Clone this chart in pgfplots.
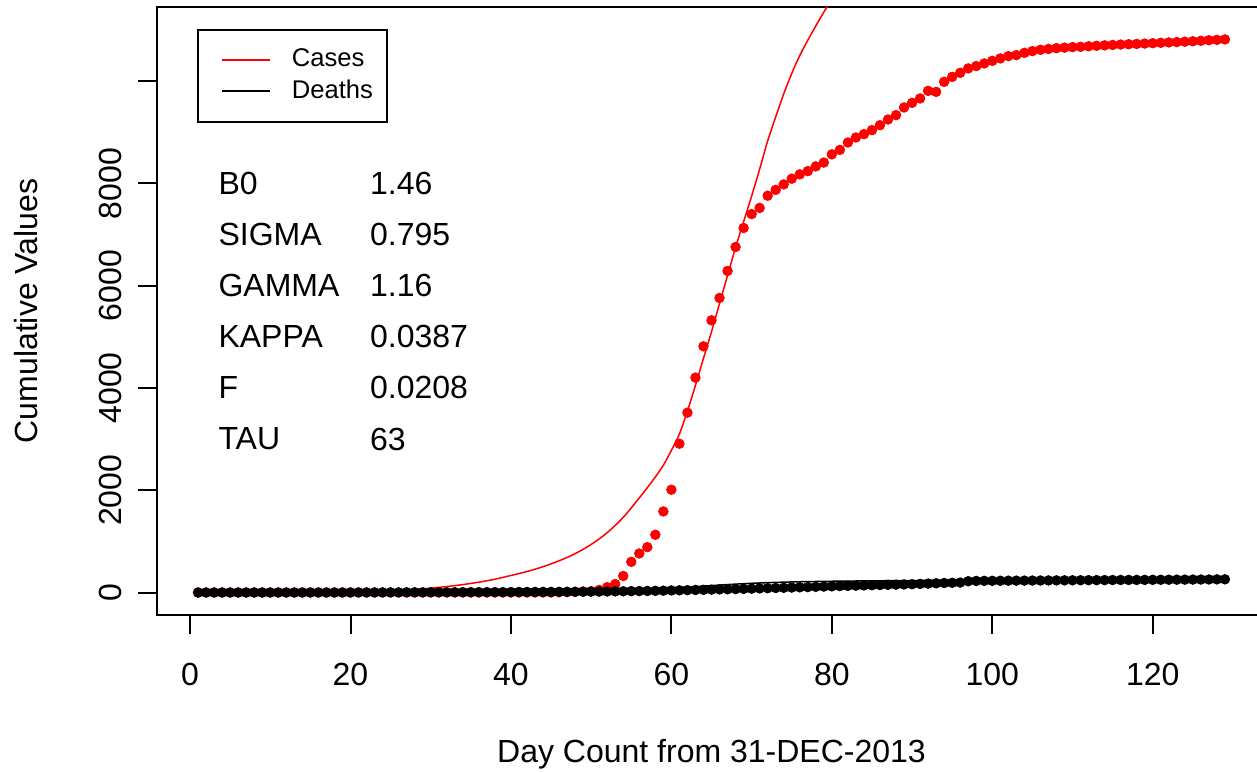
\documentclass[border=0pt]{standalone}
\usepackage{fontspec}
\setmainfont{Liberation Sans}
\usepackage{pgfplots}
\usepackage{pgfplotstable}
\pgfplotsset{compat=1.18}
\pgfplotstableread{
day cases deaths
1 0 0
2 0 0
3 0 0
4 0 0
5 0 0
6 0 0
7 0 0
8 0 0
9 0 0
10 0 0
11 0 0
12 0 0
13 0 0
14 0 0
15 0 0
16 0 0
17 0 0
18 0 0
19 0 0
20 0 0
21 0 1
22 0 1
23 0 1
24 0 2
25 0 2
26 0 2
27 0 3
28 0 3
29 0 3
30 0 4
31 0 4
32 0 5
33 0 5
34 0 6
35 0 6
36 0 7
37 0 7
38 0 8
39 0 8
40 0 9
41 0 10
42 0 10
43 0 11
44 0 12
45 0 12
46 5 13
47 8 14
48 12 15
49 18 16
50 25 17
51 50 18
52 104 20
53 165 22
54 323 24
55 600 26
56 763 28
57 887 30
58 1129 33
59 1585 36
60 2010 40
61 2910 43
62 3517 46
63 4202 50
64 4814 53
65 5323 56
66 5760 60
67 6288 63
68 6757 67
69 7129 71
70 7400 75
71 7521 80
72 7760 84
73 7874 88
74 7981 92
75 8092 97
76 8177 101
77 8240 106
78 8333 111
79 8408 116
80 8568 121
81 8656 126
82 8800 130
83 8898 134
84 8963 138
85 9041 142
86 9139 146
87 9250 150
88 9335 154
89 9485 158
90 9576 162
91 9661 168
92 9810 174
93 9791 180
94 9987 186
95 10084 190
96 10163 195
97 10249 220
98 10294 226
99 10346 228
100 10397 229
101 10444 230
102 10489 231
103 10509 232
104 10554 233
105 10587 234
106 10613 235
107 10630 236
108 10645 237
109 10655 238
110 10665 239
111 10672 240
112 10682 241
113 10692 242
114 10700 243
115 10708 244
116 10716 245
117 10722 246
118 10728 246
119 10735 247
120 10742 248
121 10750 249
122 10757 250
123 10764 251
124 10772 252
125 10780 253
126 10790 254
127 10800 255
128 10808 257
129 10816 258
}\obsdata
\pgfplotstableread{
day cases
1 1
5 2
10 4
15 8
20 15
24 28
26 40
28 60
30 85
32 117
34 155
36 202
38 260
40 333
42 410
44 505
46 620
48 760
50 940
52 1170
54 1470
56 1850
57 2050
58 2260
59 2490
60 2780
61 3100
62 3550
63 4050
64 4580
65 5100
66 5650
67 6200
68 6750
69 7250
70 7750
71 8280
72 8830
73 9300
74 9750
75 10150
76 10500
77 10800
78 11080
79 11350
80 11600
81 11850
}\fitcases
\pgfplotstableread{
day deaths
1 0
30 1
40 5
45 12
50 25
55 50
58 70
61 95
64 125
67 155
70 180
73 198
76 210
80 220
85 228
90 234
95 238
100 241
110 245
120 248
129 250
}\fitdeaths
\begin{document}
\fontsize{16}{19}\selectfont
\begin{tikzpicture}[x=1pt,y=1pt]
\path[use as bounding box] (0,0) rectangle (628.5,386);
\begin{axis}[
  at={(78.5pt,78.5pt)}, anchor=south west,
  width=554.5pt, height=304pt, scale only axis,
  xmin=-4.12, xmax=134.12, ymin=-440, ymax=11450,
  axis line style={line width=1pt},
  tick style={line width=1pt, black},
  tick align=outside, major tick length=9.5pt,
  xtick={0,20,40,60,80,100,120},
  ytick={0,2000,4000,6000,8000,10000},
  yticklabels={0,2000,4000,6000,8000,{}},
  scaled y ticks=false, scaled x ticks=false,
  xtick pos=bottom, ytick pos=left,
  minor tick num=0,
  /pgf/number format/assume math mode=true,
  ticklabel style={font=\fontsize{16}{19}\selectfont},
  xticklabel shift=9pt,
  yticklabel shift=2.5pt,
  yticklabel style={rotate=90, anchor=south},
  xlabel={Day Count from 31-DEC-2013},
  ylabel={Cumulative Values},
  label style={font=\fontsize{16}{19}\selectfont},
  xlabel style={at={(axis description cs:0.5,-0.243)}, anchor=base},
  ylabel style={at={(axis description cs:-0.108,0.5)}, anchor=base},
  legend style={at={(0.036,0.964)}, anchor=north west, draw=black, line width=1pt,
    font=\fontsize{12.8}{15}\selectfont, inner xsep=5pt, inner ysep=7.5pt, row sep=0pt},
  legend cell align=left,
  legend image code/.code={\path[draw=none] (0pt,0pt) -- (40pt,0pt);\draw[#1, line width=0.75pt] (7pt,0pt) -- (31pt,0pt);},
]
\addlegendimage{red}
\addlegendentry{Cases}
\addlegendimage{black}
\addlegendentry{Deaths}
\addplot[forget plot, only marks, mark=*, red, mark size=2.4pt] table[x=day, y=cases] {\obsdata};
\addplot[forget plot, red, line width=0.75pt, smooth] table[x=day, y=cases] {\fitcases};
\addplot[forget plot, only marks, mark=*, black, mark size=2.4pt] table[x=day, y=deaths] {\obsdata};
\addplot[forget plot, black, line width=0.75pt, smooth] table[x=day, y=deaths] {\fitdeaths};
\node[anchor=west, inner sep=0pt] at (axis cs:3.5,8000) {B0};
\node[anchor=west, inner sep=0pt] at (axis cs:3.5,7000) {SIGMA};
\node[anchor=west, inner sep=0pt] at (axis cs:3.5,6000) {GAMMA};
\node[anchor=west, inner sep=0pt] at (axis cs:3.5,5000) {KAPPA};
\node[anchor=west, inner sep=0pt] at (axis cs:3.5,4000) {F};
\node[anchor=west, inner sep=0pt] at (axis cs:3.5,3000) {TAU};
\node[anchor=west, inner sep=0pt] at (axis cs:22.4,8000) {1.46};
\node[anchor=west, inner sep=0pt] at (axis cs:22.4,7000) {0.795};
\node[anchor=west, inner sep=0pt] at (axis cs:22.4,6000) {1.16};
\node[anchor=west, inner sep=0pt] at (axis cs:22.4,5000) {0.0387};
\node[anchor=west, inner sep=0pt] at (axis cs:22.4,4000) {0.0208};
\node[anchor=west, inner sep=0pt] at (axis cs:22.4,3000) {63};
\end{axis}
\end{tikzpicture}
\end{document}
